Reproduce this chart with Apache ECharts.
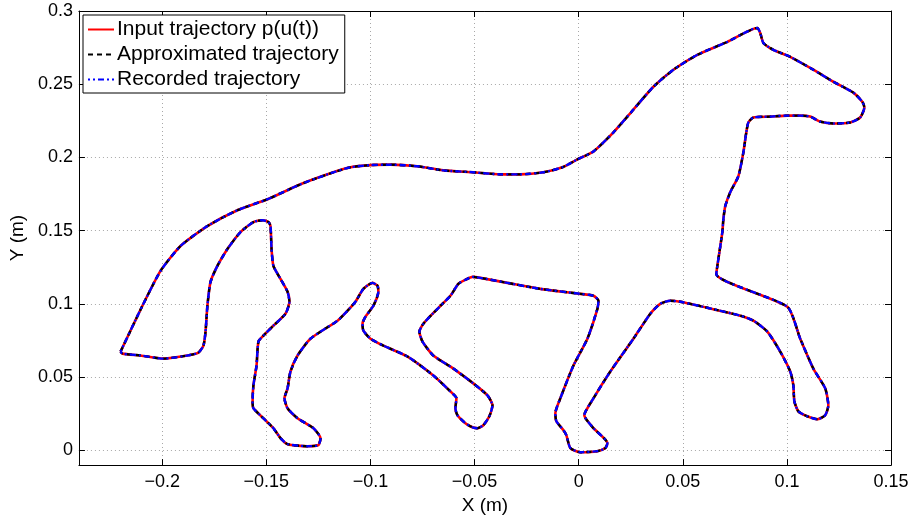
<!DOCTYPE html>
<html>
<head>
<meta charset="utf-8">
<script src="https://cdn.jsdelivr.net/npm/echarts@6/dist/echarts.min.js"></script>
<style>
html,body{margin:0;padding:0;background:#fff;}
#chart{width:914px;height:520px;}
</style>
</head>
<body>
<div id="chart"></div>
<script>
// Series names (legend)
const seriesNames = ['Input trajectory p(u(t))', 'Approximated trajectory', 'Recorded trajectory'];

// Horse-shaped trajectory, X (m) and Y (m)
const trajX = [-0.2200,-0.2095,-0.2008,-0.1912,-0.1783,-0.1639,-0.1494,-0.1336,-0.1192,-0.1096,
-0.1000,-0.0904,-0.0774,-0.0650,-0.0506,-0.0376,-0.0280,-0.0169,-0.0078,-0.0006,
0.0071,0.0167,0.0263,0.0359,0.0455,0.0570,0.0714,0.0858,0.0872,0.0887,
0.0935,0.1016,0.1127,0.1223,0.1319,0.1362,0.1372,0.1352,0.1304,0.1223,
0.1160,0.1112,0.1064,0.1002,0.0920,0.0839,0.0815,0.0805,0.0791,0.0767,
0.0728,0.0704,0.0695,0.0690,0.0671,0.0661,0.1002,0.1064,0.1127,0.1184,
0.1199,0.1184,0.1146,0.1098,0.1055,0.1036,0.1031,0.1016,0.0968,0.0906,
0.0839,0.0776,0.0618,0.0488,0.0440,0.0392,0.0344,0.0263,0.0152,0.0071,
0.0027,0.0071,0.0138,0.0128,0.0090,0.0008,-0.0040,-0.0059,-0.0073,-0.0107,
-0.0112,-0.0088,-0.0025,0.0042,0.0090,0.0095,0.0071,0.0008,-0.0184,-0.0342,
-0.0472,-0.0510,-0.0544,-0.0578,-0.0616,-0.0678,-0.0746,-0.0765,-0.0750,-0.0698,
-0.0602,-0.0506,-0.0438,-0.0414,-0.0429,-0.0458,-0.0486,-0.0510,-0.0544,-0.0582,
-0.0592,-0.0587,-0.0616,-0.0698,-0.0822,-0.0938,-0.1000,-0.1034,-0.1038,-0.1024,
-0.0986,-0.0962,-0.0966,-0.0990,-0.1034,-0.1072,-0.1110,-0.1158,-0.1288,-0.1350,
-0.1384,-0.1398,-0.1413,-0.1398,-0.1350,-0.1274,-0.1240,-0.1250,-0.1302,-0.1398,
-0.1432,-0.1466,-0.1504,-0.1562,-0.1566,-0.1562,-0.1547,-0.1538,-0.1514,-0.1466,
-0.1408,-0.1389,-0.1398,-0.1432,-0.1466,-0.1475,-0.1480,-0.1490,-0.1518,-0.1562,
-0.1624,-0.1687,-0.1735,-0.1768,-0.1783,-0.1792,-0.1802,-0.1826,-0.1879,-0.1994,
-0.2104,-0.2191,-0.2200];

const trajY = [0.0675,0.0988,0.1226,0.1396,0.1532,0.1640,0.1715,0.1817,0.1892,0.1933,
0.1948,0.1951,0.1940,0.1912,0.1899,0.1885,0.1885,0.1899,0.1933,0.1987,
0.2041,0.2171,0.2327,0.2483,0.2599,0.2701,0.2789,0.2884,0.2850,0.2782,
0.2735,0.2687,0.2599,0.2517,0.2443,0.2381,0.2341,0.2273,0.2239,0.2232,
0.2245,0.2279,0.2286,0.2286,0.2279,0.2273,0.2239,0.2171,0.2035,0.1872,
0.1763,0.1668,0.1579,0.1491,0.1307,0.1205,0.0981,0.0763,0.0559,0.0424,
0.0308,0.0240,0.0213,0.0233,0.0267,0.0335,0.0444,0.0539,0.0675,0.0811,
0.0886,0.0920,0.0974,0.1015,0.1022,0.1001,0.0933,0.0763,0.0539,0.0356,
0.0240,0.0152,0.0050,0.0016,-0.0005,-0.0012,0.0016,0.0104,0.0138,0.0199,
0.0254,0.0356,0.0580,0.0763,0.0967,0.1022,0.1056,0.1069,0.1103,0.1144,
0.1178,0.1185,0.1165,0.1137,0.1056,0.0967,0.0865,0.0811,0.0743,0.0648,
0.0559,0.0458,0.0376,0.0308,0.0233,0.0172,0.0152,0.0158,0.0186,0.0240,
0.0288,0.0356,0.0403,0.0512,0.0641,0.0716,0.0763,0.0818,0.0865,0.0913,
0.0988,0.1083,0.1124,0.1144,0.1103,0.1015,0.0954,0.0886,0.0763,0.0648,
0.0539,0.0424,0.0356,0.0288,0.0220,0.0152,0.0084,0.0036,0.0029,0.0043,
0.0084,0.0152,0.0206,0.0288,0.0335,0.0444,0.0580,0.0743,0.0784,0.0852,
0.0933,0.1015,0.1083,0.1171,0.1260,0.1375,0.1532,0.1559,0.1572,0.1559,
0.1491,0.1375,0.1260,0.1151,0.0988,0.0811,0.0716,0.0668,0.0648,0.0627,
0.0648,0.0661,0.0675];

// Axis ranges
const xRange = [-0.24, 0.15];
const yRange = [-0.01, 0.3];

const points = trajX.map((x, i) => [x, trajY[i]]);
const FONT = '"Liberation Sans", Arial, Helvetica, sans-serif';
const fmt = v => String(+v.toFixed(4)).replace('-', '\u2212');

const chart = echarts.init(document.getElementById('chart'), null, {renderer: 'canvas'});

const baseAxis = {
  type: 'value',
  axisLine: {show: true, onZero: false, lineStyle: {color: '#000', width: 1}},
  axisTick: {show: true, inside: true, length: 6, lineStyle: {color: '#000'}},
  splitLine: {show: false},
  axisLabel: {show: false}
};

const option = {
  animation: false,
  backgroundColor: '#fff',
  grid: {left: 78, top: 11, right: 23, bottom: 53, containLabel: false},
  legend: {
    orient: 'vertical',
    left: 83, top: 15,
    padding: [4, 6, 3, 4],
    itemGap: 4,
    itemWidth: 26, itemHeight: 18,
    backgroundColor: '#fff',
    borderColor: '#000', borderWidth: 1, borderRadius: 0,
    itemStyle: {opacity: 0},
    textStyle: {fontFamily: FONT, fontSize: 21, color: '#000', padding: [0, 0, 0, -2]},
    data: seriesNames
  },
  xAxis: [
    Object.assign({}, baseAxis, {
      position: 'bottom',
      min: xRange[0], max: xRange[1], splitNumber: 8,
      axisLabel: {show: true, showMinLabel: false, formatter: fmt, color: '#000',
        fontFamily: FONT, fontSize: 18, margin: 8},
      splitLine: {show: true, lineStyle: {color: '#a8a8a8', type: [1, 3], width: 1}},
      name: 'X (m)', nameLocation: 'middle', nameGap: 28,
      nameTextStyle: {fontFamily: FONT, fontSize: 19, color: '#000'}
    }),
    Object.assign({}, baseAxis, {
      position: 'top', min: xRange[0], max: xRange[1], splitNumber: 8
    })
  ],
  yAxis: [
    Object.assign({}, baseAxis, {
      position: 'left',
      min: yRange[0], max: yRange[1], splitNumber: 6,
      axisLabel: {show: true, showMinLabel: false, formatter: fmt, color: '#000',
        fontFamily: FONT, fontSize: 18, margin: 6},
      splitLine: {show: true, lineStyle: {color: '#a8a8a8', type: [1, 3], width: 1}},
      name: 'Y (m)', nameLocation: 'middle', nameGap: 50,
      nameTextStyle: {fontFamily: FONT, fontSize: 19, color: '#000'}
    }),
    Object.assign({}, baseAxis, {
      position: 'right', min: yRange[0], max: yRange[1], splitNumber: 6
    })
  ],
  series: [
    {
      name: seriesNames[0], type: 'line', data: points, symbol: 'none', smooth: 0.2,
      xAxisIndex: 0, yAxisIndex: 0, z: 2,
      lineStyle: {color: '#ff0000', width: 2.6, type: 'solid'},
      itemStyle: {color: '#ff0000'}
    },
    {
      name: seriesNames[1], type: 'line', data: points, symbol: 'none', smooth: 0.2,
      xAxisIndex: 0, yAxisIndex: 0, z: 3,
      lineStyle: {color: '#000000', width: 2.4, type: [5, 4]},
      itemStyle: {color: '#000000'}
    },
    {
      name: seriesNames[2], type: 'line', data: points, symbol: 'none', smooth: 0.2,
      xAxisIndex: 0, yAxisIndex: 0, z: 4,
      lineStyle: {color: '#0000ff', width: 2.4, type: [6, 3, 2, 3], dashOffset: 4},
      itemStyle: {color: '#0000ff'}
    }
  ]
};
chart.setOption(option);
</script>
</body>
</html>
